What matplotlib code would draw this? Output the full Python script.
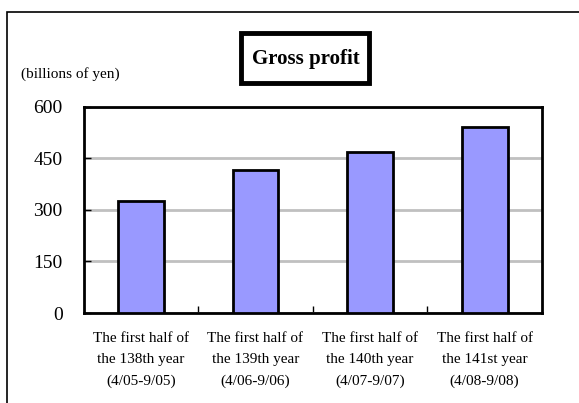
import matplotlib.pyplot as plt
from matplotlib.patches import Rectangle

# data
periods = ['The first half of\nthe 138th year\n(4/05-9/05)',
           'The first half of\nthe 139th year\n(4/06-9/06)',
           'The first half of\nthe 140th year\n(4/07-9/07)',
           'The first half of\nthe 141st year\n(4/08-9/08)']
gross_profit = [325, 415, 467, 540]
yticks = [0, 150, 300, 450, 600]

plt.rcParams['font.family'] = ['Liberation Serif', 'DejaVu Serif']

W, H = 579, 403
fig = plt.figure(figsize=[W / 100, H / 100], dpi=100)

# outer chart frame (clipped on the right and bottom like the original)
fig.patches.append(Rectangle((7.5 / W, -0.1), 1.2, 1 - 12 / H + 0.1,
                             transform=fig.transFigure, fill=False,
                             edgecolor='black', linewidth=1.2))

ax = fig.add_axes([83.5 / W, 1 - 313 / H, (542 - 83.5) / W, (313 - 106.5) / H])
x = list(range(len(gross_profit)))
ax.bar(x, gross_profit, width=0.4, color='#9999ff', edgecolor='black',
       linewidth=2, zorder=3)
ax.set_xlim(-0.5, len(gross_profit) - 0.5)
ax.set_ylim(0, 600)
ax.set_yticks(yticks)
ax.set_yticklabels([str(v) for v in yticks], fontsize=14)
ax.yaxis.grid(True, color='#c0c0c0', linewidth=2, zorder=0)
ax.tick_params(axis='y', direction='in', length=5, width=1, pad=15)

# x ticks between categories, labels centred under the bars
ax.set_xticks([0.5, 1.5, 2.5])
ax.set_xticklabels([])
ax.set_xticks(x, minor=True)
ax.set_xticklabels(periods, minor=True, fontsize=11, linespacing=1.8)
ax.tick_params(axis='x', which='major', direction='in', length=5, width=1)
ax.tick_params(axis='x', which='minor', length=0, pad=14)
for s in ax.spines.values():
    s.set_linewidth(2)

fig.text(21 / W, 1 - 74 / H, '(billions of yen)', fontsize=11, va='center')

# title in a thick square box
fig.patches.append(Rectangle((241 / W, 1 - 83 / H), 128 / W, 50 / H,
                             transform=fig.transFigure, facecolor='white',
                             edgecolor='black', linewidth=3.5))
fig.text(305.5 / W, 1 - 59 / H, 'Gross profit', fontsize=15, fontweight='bold',
         ha='center', va='center')

fig.savefig('out.png', dpi=100)
